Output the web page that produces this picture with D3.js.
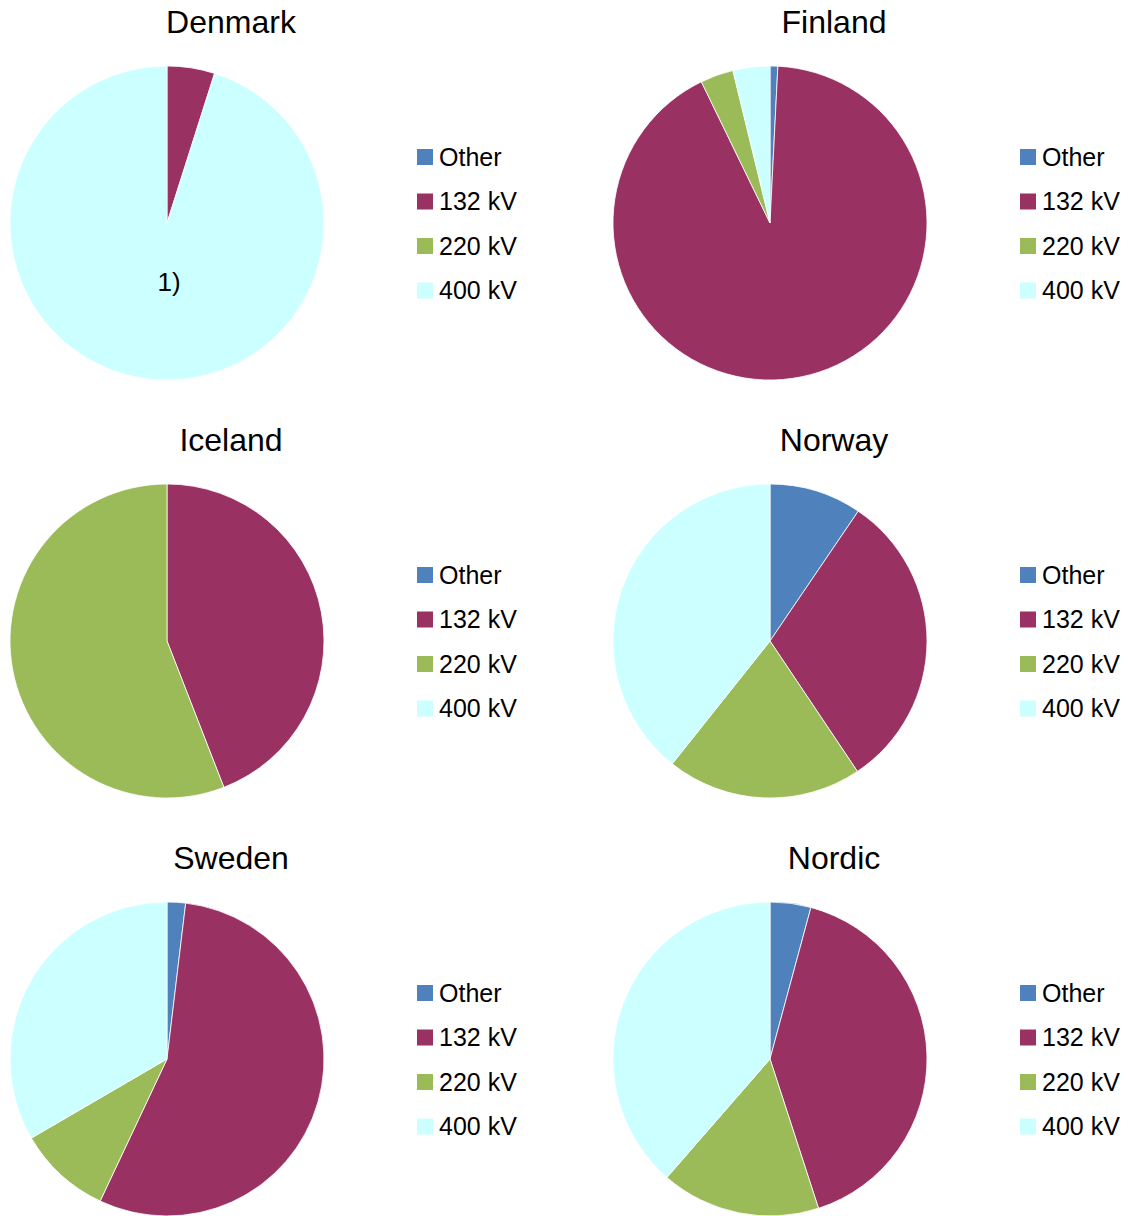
<!DOCTYPE html>
<html>
<head>
<meta charset="utf-8">
<script src="https://cdn.jsdelivr.net/npm/d3@7"></script>
<style>
  body { margin: 0; background: #fff; }
  text { font-family: "Liberation Sans", Arial, sans-serif; fill: #000; }
</style>
</head>
<body>
<svg id="chart"></svg>
<script>
// Share of grid length by voltage level (%)
const categories = ["Other", "132 kV", "220 kV", "400 kV"];
const countries = ["Denmark", "Finland", "Iceland", "Norway", "Sweden", "Nordic"];
const denmark = [0, 4.9, 0, 95.1];
const finland = [0.8, 92.0, 3.4, 3.8];
const iceland = [0, 44.1, 55.9, 0];
const norway = [9.5, 31.1, 20.1, 39.3];
const sweden = [1.9, 55.1, 9.6, 33.4];
const nordic = [4.2, 40.8, 16.4, 38.6];
const seriesValues = [denmark, finland, iceland, norway, sweden, nordic];
const notes = ["1)", "", "", "", "", ""];

const colors = ["#4f81bd", "#993162", "#9bbb59", "#ccffff"];

const width = 1128;
const height = 1216;
const radius = 157;
const cellW = 603;
const cellH = 418;
const cx0 = 167;
const cy0 = 223;

const svg = d3.select("#chart")
    .attr("width", width)
    .attr("height", height);

const color = d3.scaleOrdinal(categories, colors);

const pie = d3.pie()
    .sort(null)
    .value(d => d.value);

const arc = d3.arc()
    .innerRadius(0)
    .outerRadius(radius);

const panels = svg.selectAll(".panel")
    .data(countries)
    .join("g")
    .attr("class", "panel")
    .attr("transform", (d, i) => `translate(${cx0 + (i % 2) * cellW}, ${cy0 + Math.floor(i / 2) * cellH})`);

panels.each(function (country, i) {
    const g = d3.select(this);
    const slices = categories.map((c, j) => ({ cat: c, value: seriesValues[i][j] }));

    g.selectAll("path")
        .data(pie(slices).filter(d => d.data.value > 0))
        .join("path")
        .attr("d", arc)
        .attr("fill", d => color(d.data.cat))
        .attr("stroke", "#fff")
        .attr("stroke-width", 0.8);

    // title
    g.append("text")
        .attr("x", 64)
        .attr("y", -190)
        .attr("text-anchor", "middle")
        .attr("font-size", "32px")
        .text(country);

    if (notes[i]) {
        g.append("text")
            .attr("x", 2)
            .attr("y", 68)
            .attr("text-anchor", "middle")
            .attr("font-size", "26px")
            .text(notes[i]);
    }

    // legend
    const legend = g.selectAll(".legend")
        .data(categories)
        .join("g")
        .attr("class", "legend")
        .attr("transform", (d, j) => `translate(250, ${-66 + j * 44.5})`);

    legend.append("rect")
        .attr("x", 0)
        .attr("y", -8)
        .attr("width", 16)
        .attr("height", 16)
        .attr("fill", d => color(d));

    legend.append("text")
        .attr("x", 22)
        .attr("y", 0)
        .attr("dy", "0.35em")
        .attr("font-size", "25px")
        .text(d => d);
});
</script>
</body>
</html>
